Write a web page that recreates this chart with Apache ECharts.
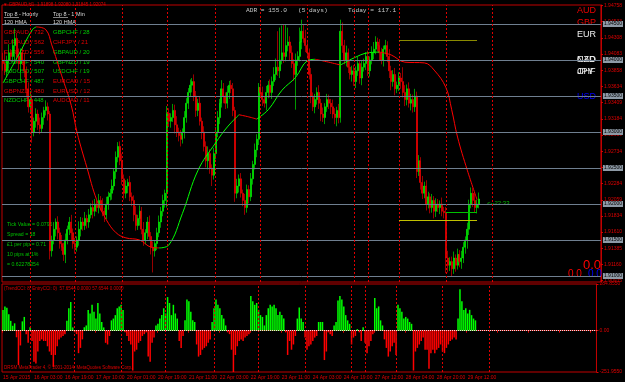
<!DOCTYPE html>
<html><head><meta charset="utf-8">
<script src="https://cdn.jsdelivr.net/npm/echarts@6/dist/echarts.min.js"></script>
<style>html,body{margin:0;padding:0;background:#000;}#c{width:625px;height:382px;}</style>
</head><body><div id="c"></div>
<script>
// ---- DATA (prices in points above 1.9000, 1 point = 0.0001) ----
const firstOpenPts = 400;
const closePts = [
395,385,400,410,405, 420,430,405,395,410,400,385, 360,335,345, 300,315,325,310,305,
320,330,335,325, 135,
150,165,175,160,145,140,130,150,165,175,160,145,140,150,165,175,170,180,
175,185,195,190,200,195,205, 200,190,185,200,210, 215,225,245,265,280,
260,235,215,225,230,210,205, 185,170,180,190,165,150,160,175,155,140,135,145,
160,175,190,205,215, 326, 315,320,330,310,300,295,290, 300,320,340,355,365,370,
350,330,340,315,300, 280,260,270,250,240, 270,300,320,340, 360,350,340,355,365,360,
330,215, 225,235,215,205,195,220,210, 235,255,275,290, 362,
355,345,340,355,365,355,370, 380,390,385,400,410,405,420,425, 410,395,380,400,405,
425,440,430,420,410, 380,350,335, 345,355,340,325,320,335,345,340, 335,325,320,330,320,
440, 420,400,410,390,380,385, 370,385,395,375,390, 395,405,385,400,410,
415,425,420,410,400,415,420,405, 385,370,380,360,365, 375,
370,355,345,360,340, 345,335,350,245, 260,230,215,225,200, 210,195,205,190,200,
195,200,190,188, 125, 115,120,110, 125,115,130,120,125, 140,150,165, 200, 215, 205,195,200,207
];
const upperWick = [
10,18,6,12,5,9,14,7,11,6, 8,10,6,9,12,7,5,8,6,10, 7,5,9,6,4,6,10,5,8,7, 12,6,9,5,7,10,6,8,5,11,
7,6,9,5,8,6,10,7,5,9, 6,8,5,10,7,6,9,5,8,6, 7,10,6,8,5,9,6,7,12,5, 8,6,10,5,7,9,6,8,5,7,
9,6,8,5,10,7,6,9,8,12, 6,8,5,9,7,6,8,5,10,7, 6,9,5,8,7,10,6,5,8,7, 9,6,12,8,5,9,6,7,8,5,
10,6,8,5,9,7,6,8,5,9, 7,6,10,8,5,9,6,8,7,10, 12,50,45,38,40,30,20,8,10,6, 9,7,20,16,10,12,8,6,9,5,
8,7,10,6,9,5,8,7,6,10, 8,5,9,16,12,8,10,6,9,7, 8,6,10,5,9,7,6,8,5,9, 10,8,6,9,7,5,8,6,10,7,
6,9,5,8,7,20,10,6,9,8, 7,10,6,8,5,9,6,8,7,5, 9,6,8,7,5,9,6,8,10,6, 7,9,5,8,6,10,7,5,9,6, 8,7,10,6,9
];
const lowerWick = [
10,6,9,12,7,8,25,10,9,24, 7,9,12,8,10,15,6,9,7,8, 6,10,7,9,12,8,6,10,9,7, 5,9,12,6,8,10,7,9,6,8,
10,7,6,9,8,5,10,7,6,8, 9,7,10,6,8,5,9,6,10,7, 6,8,9,7,10,6,8,9,7,6, 10,7,8,6,9,5,10,30,8,9,
6,8,7,10,20,8,9,6,12,7, 8,10,6,9,7,8,6,10,7,9, 8,6,10,7,9,12,8,15,6,8, 7,9,6,10,8,7,9,6,8,12,
7,9,6,8,10,7,9,6,8,7, 10,8,7,9,6,10,8,7,9,6, 8,7,10,6,9,7,8,10,6,9, 49,8,7,10,6,9,8,7,10,6,
9,7,8,10,6,9,7,8,10,6, 9,12,8,7,10,6,9,8,7,10, 6,9,7,8,10,6,9,7,8,6, 9,7,8,10,6,9,7,8,10,12,
7,9,6,8,10,7,9,8,6,10, 8,7,9,6,10,8,7,9,6,8, 7,10,8,6,9,7,8,21,10,8, 11,7,9,6,8,10,7,9,12,8, 6,9,7,8,6
];
// HMA(120) line points: [bar index, points above 1.9000]
const hmaPoints = [[0,368],[8,407],[15,442],[17,446],[22,442],[25,421],[30,379],[35,337],[38,299],[43,251],
[48,206],[53,178],[58,160],[63,153],[70,150],[76,140],[80,139],[85,143],[92,187],[100,247],[109,285],
[115,307],[121,324],[126,321],[130,318],[136,331],[143,358],[150,376],[156,399],[160,401],[167,397],
[173,393],[180,403],[187,410],[193,411],[199,407],[206,397],[216,396],[221,386],[227,362],[230,331],
[233,293],[238,247],[243,206]];
// CCI histogram
const cciHist = [
126,148,140,100,60,30,45, -40,-210,-90,57,84,-21,-74,21,
-63,-190,-200,-127,-63,-53,-63,-63,-95,-127,-148,-221,-148,-95,-53,-42,-32,-21,
60,137,175,20, -10,-21,-137,-105,-53,
21,32,127,105,158,116,74,169,105,53,20, -74,-84,-32,
63,74,95,137,148,158,127, -10,-32,-63,-84,-243,-127,-116,-74,-63,-32,-21,-10,-158,-190,-74,-42,
32,42,74,95,137,105,205,169,95,158,105,74, -63,-105,-32,
63,190,179,116,63,53, -84,-158,-148,-116,-105,-95,-74,-53,
53,137,190,158,137,95,74,32, -10,-21,-116,-260,-148,-95,-63,-53,-63,-42,-32,-21,
211,179,158,169,127,95,84,32, 95,137,158,148,158,137,95,116,95,74,
-10,-148,-63,-116,-84,-32, 74,141,74,53, -42,-116,-95,-84,-63,-42,-32, 53,53,53,
-179,-127,-10,-21,-32, 32,53,184,211,190,148,95,63,42,
-84,-42,-32,10,-10,-63,21, -74,-137,-95,-63,-21, 200,137,148,63,32,
-53,-105,-158,-127,-95,-74,-148, 158,137,116,74,84,74,53,42,
-243,-127,-105,-84,-63,-42,-116,-116,-232,-137,-116,-137,-116,-105,-84,-127,-137,-105,-84,-63,-53,-42,-53,
74,253,179,127,137,105,127,95,74,63
];
const barCount = 307;
const xTickLabels = ['15 Apr 2015','16 Apr 03:00','16 Apr 19:00','17 Apr 10:00','20 Apr 01:00','20 Apr 19:00',
'21 Apr 11:00','22 Apr 03:00','22 Apr 19:00','23 Apr 11:00','24 Apr 03:00','24 Apr 19:00','27 Apr 12:00',
'28 Apr 04:00','28 Apr 20:00','29 Apr 12:00'];
const daySeparators = [14,37,61,84,109,132,156,180,187,203,227,251];
const roundLevels = [1.945,1.940,1.935,1.930,1.925,1.920,1.915,1.910];
const priceTicks = [1.94758,1.94533,1.94308,1.94083,1.93858,1.93634,1.93409,1.93184,1.92959,1.92734,
1.92509,1.92284,1.92059,1.91834,1.91610,1.91385,1.91160,1.90935];
const currentPrice = 1.92074;
const priceMin = 1.90917, priceMax = 1.94764;
const cciMin = -251.955, cciMax = 284.855;
const levelLines = [ // [fromBar, toBar, price, colour]
  [203, 243, 1.9428, '#8a8a00'],
  [203, 243, 1.9178, '#c0c000'],
  [227, 243, 1.9189, '#00c000']
];

// ---- BUILD ----
const toPrice = p => +(1.9 + p / 10000).toFixed(5);
const cats = []; for (let i = 0; i < barCount; i++) cats.push(i);
const bullData = [], bearData = [];
closePts.forEach((c, i) => {
  const o = i === 0 ? firstOpenPts : closePts[i - 1];
  const k = [o, c, Math.min(o, c) - lowerWick[i], Math.max(o, c) + upperWick[i]].map(toPrice);
  if (c >= o) { bullData.push(k); bearData.push('-'); } else { bearData.push(k); bullData.push('-'); }
});
const hmaRuns = []; let run = null, runUp = null;
for (let k = 1; k < hmaPoints.length; k++) {
  const a = hmaPoints[k - 1], b = hmaPoints[k];
  const up = b[1] >= a[1];
  if (run === null || up !== runUp) { run = [[a[0], toPrice(a[1])]]; runUp = up; hmaRuns.push({ up, data: run }); }
  run.push([b[0], toPrice(b[1])]);
}
const RED = '#ff0000', GRN = '#00ff00';
const sepLines = daySeparators.map(i => ({ xAxis: i, lineStyle: { color: '#e00000', type: [2, 2], width: 1 }, label: { show: false } }));
const boxLabel = (txt, bg, fg) => ({ show: true, position: 'end', distance: 2, formatter: txt, backgroundColor: bg, color: fg,
  fontSize: 5, padding: [1, 1, 0, 1], fontFamily: 'Liberation Sans' });
const grayLines = roundLevels.map(v => ({ yAxis: v, lineStyle: { color: '#6f7f90', type: 'solid', width: 1 }, label: boxLabel(v.toFixed(5), '#8e9aa6', '#000') }));
const curLine = { yAxis: currentPrice, lineStyle: { opacity: 0 }, label: boxLabel(currentPrice.toFixed(5), '#ff0000', '#fff') };
const segLines = levelLines.map(s => [{ coord: [s[0], s[2]], lineStyle: { color: s[3], width: 1, type: 'solid' }, label: { show: false } }, { coord: [s[1], s[2]] }]);

const F = 'Liberation Sans';
function T(text, x, y, fill, size, family) {
  return { type: 'text', z: 1, silent: true, style: { text, x, y, fill, fontSize: size, fontFamily: family || F, verticalAlign: 'middle' } };
}
const listRowsY = [32, 42, 52, 62, 71, 81, 91, 100];
const listLeft = [['GBPAUD / 732', 'r'], ['EURAUD / 562', 'r'], ['EURNZD / 556', 'r'], ['AUDCHF / 540', 'g'], ['AUDUSD / 507', 'g'], ['GBPCHF / 487', 'g'], ['GBPNZD / 480', 'r'], ['NZDCHF / 448', 'g']];
const listRight = [['GBPCHF / 28', 'g'], ['CHFJPY / 21', 'r'], ['GBPAUD / 20', 'g'], ['GBPNZD / 19', 'g'], ['USDCHF / 19', 'g'], ['EURCAD / 15', 'r'], ['EURUSD / 12', 'r'], ['AUDCAD / 11', 'r']];
const colr = k => k === 'r' ? '#dd0000' : '#00cc00';
const texts = [
  T('\u25BC GBPAUD,H1  1.91898 1.92080 1.91845 1.92074', 3, 5, '#e00000', 4.5),
  T('Top 8 - Hourly', 4, 14, '#d8d8d8', 5.5), T('Top 8 - 1 Min', 53, 14, '#d8d8d8', 5.5),
  T('120 HMA', 4, 22, '#d8d8d8', 5.5), T('120 HMA', 53, 22, '#d8d8d8', 5.5),
  { type: 'line', z: 1, silent: true, shape: { x1: 4, y1: 17.5, x2: 19, y2: 17.5 }, style: { stroke: '#d8d8d8', lineWidth: 0.6 } },
  { type: 'line', z: 1, silent: true, shape: { x1: 53, y1: 17.5, x2: 68, y2: 17.5 }, style: { stroke: '#d8d8d8', lineWidth: 0.6 } },
  T('ADR = 155.0   (5 days)', 246, 10, '#c8c8c8', 6.2, 'Liberation Mono'),
  T('Today = 117.1', 348, 10, '#c8c8c8', 6.2, 'Liberation Mono'),
  T('AUD', 577, 11, '#ee0000', 9), T('GBP', 577, 23, '#ee0000', 9), T('EUR', 577, 35, '#f0f0f0', 9),
  T('NZD', 577, 60, '#f0f0f0', 9), T('CAD', 577, 60, '#f0f0f0', 9),
  T('JPY', 577, 72, '#f0f0f0', 9), T('CHF', 577, 72, '#f0f0f0', 9),
  T('USD', 577, 97, '#0000ff', 9),
  T('0.0', 583, 265, '#ff0000', 13), T('0.0', 568, 274, '#ff0000', 10), T('0.0', 588, 274, '#0000ff', 10),
  T('Tick Value = 0.0795', 7, 225, '#00c000', 5.2), T('Spread = 18', 7, 235, '#00c000', 5.2),
  T('\u00A31 per pip = 0.71', 7, 245, '#00c000', 5.2), T('10 pips at 1%', 7, 255, '#00c000', 5.2),
  T('= 0.62278354', 7, 265, '#00c000', 5.2),
  T('<--22:33', 487, 203, '#00c000', 6),
  T('(TrendCCI: 8, EntryCCI: 0)  57.6544 0.0000 57.6544 0.0000', 4, 289, '#e00000', 4.5),
  T('DRSM MetaTrader 4, \u00A9 2001-2014, MetaQuotes Software Corp.', 4, 368, '#e00000', 4.5)
];
listRowsY.forEach((y, k) => {
  texts.push(T(listLeft[k][0], 4, y, colr(listLeft[k][1]), 6));
  texts.push(T(listRight[k][0], 53, y, colr(listRight[k][1]), 6));
});

const candleSeries = (data, col) => ({ type: 'candlestick', xAxisIndex: 0, yAxisIndex: 0, data, barWidth: 1.5, z: 3,
  itemStyle: { color: col, color0: col, borderColor: col, borderColor0: col, borderColorDoji: col, borderWidth: 0.6 } });
const series = [
  Object.assign(candleSeries(bullData, GRN), {
    markLine: { silent: true, symbol: 'none', precision: 5, animation: false, data: [...grayLines, curLine, ...sepLines, ...segLines] } }),
  candleSeries(bearData, RED),
  ...hmaRuns.map(r => ({ type: 'line', xAxisIndex: 0, yAxisIndex: 0, data: r.data, smooth: 0.4, symbol: 'none', z: 4,
    lineStyle: { color: r.up ? GRN : RED, width: 1 } })),
  { type: 'bar', xAxisIndex: 1, yAxisIndex: 1, data: cciHist, barWidth: 1.5,
    itemStyle: { color: p => p.value >= 0 ? GRN : RED },
    markLine: { silent: true, symbol: 'none', precision: 5, animation: false, data: [
      ...sepLines,
      { yAxis: 0, lineStyle: { color: '#e8e8e8', type: [1, 1], width: 1 }, label: { show: false } } ] } }
];

const chart = echarts.init(document.getElementById('c'), null, { renderer: 'canvas' });
chart.setOption({
  backgroundColor: '#000',
  animation: false,
  grid: [
    { left: 2, right: 21, top: 5, height: 277, show: true, borderColor: '#c00000', borderWidth: 1, backgroundColor: 'transparent' },
    { left: 2, right: 21, top: 284, height: 88, show: true, borderColor: '#c00000', borderWidth: 1, backgroundColor: 'transparent' }
  ],
  xAxis: [
    { type: 'category', gridIndex: 0, data: cats, boundaryGap: true, axisLine: { show: false }, axisTick: { show: false }, axisLabel: { show: false }, splitLine: { show: false } },
    { type: 'category', gridIndex: 1, data: cats, boundaryGap: true,
      axisLine: { show: true, lineStyle: { color: '#c00000' } },
      axisTick: { show: true, interval: 15, length: 2, lineStyle: { color: '#e00000' } },
      axisLabel: { show: true, interval: 15, align: 'left', margin: 3, color: '#e00000', fontSize: 5, fontFamily: F,
        formatter: (v, idx) => xTickLabels[idx / 16] || '' },
      splitLine: { show: false } }
  ],
  yAxis: [
    { type: 'value', gridIndex: 0, position: 'right', min: priceMin, max: priceMax,
      axisLine: { show: true, lineStyle: { color: '#c00000' } },
      axisTick: { show: true, length: 2, customValues: priceTicks, lineStyle: { color: '#e00000' } },
      axisLabel: { show: true, customValues: priceTicks, margin: 3, color: '#e00000', fontSize: 5, fontFamily: F, formatter: v => v.toFixed(5) },
      splitLine: { show: false } },
    { type: 'value', gridIndex: 1, position: 'right', min: cciMin, max: cciMax,
      axisLine: { show: true, lineStyle: { color: '#c00000' } },
      axisTick: { show: true, length: 2, customValues: [cciMin, 0, cciMax], lineStyle: { color: '#e00000' } },
      axisLabel: { show: true, customValues: [cciMin, 0, cciMax], margin: 3, color: '#e00000', fontSize: 5, fontFamily: F,
        formatter: v => v === 0 ? '0.00' : v.toFixed(4) },
      splitLine: { show: false } }
  ],
  graphic: { elements: texts },
  series
});
</script></body></html>
